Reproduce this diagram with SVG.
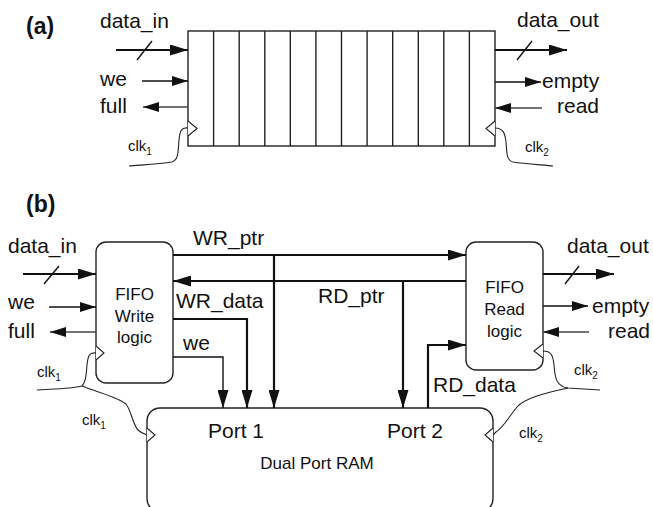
<svg xmlns="http://www.w3.org/2000/svg" width="653" height="507" viewBox="0 0 653 507">
<style>
text{font-family:"Liberation Sans",Arial,sans-serif;fill:#111}
.lbl{font-size:21px}
.clk{font-size:15px}
.sub{font-size:10px}
.hdr{font-size:23px;font-weight:bold}
.box{fill:#fff;stroke:#222;stroke-width:1.4}
.bus{fill:none;stroke:#111;stroke-width:2.2}
.sig{fill:none;stroke:#111;stroke-width:1.4}
.gsig{fill:none;stroke:#444;stroke-width:1.4}
.wire{fill:none;stroke:#222;stroke-width:1.1}
.tri{fill:#fff;stroke:#222;stroke-width:1.1}
.cell{stroke:#222;stroke-width:1.4}
</style>
<defs>
<marker id="ah" viewBox="0 0 18 11" refX="18" refY="5.5" markerWidth="18" markerHeight="11" markerUnits="userSpaceOnUse" orient="auto"><path d="M0,0 L18,5.5 L0,11 Z" fill="#111"/></marker>
<marker id="ahs" viewBox="0 0 16 10" refX="16" refY="5" markerWidth="16" markerHeight="10" markerUnits="userSpaceOnUse" orient="auto"><path d="M0,0 L16,5 L0,10 Z" fill="#111"/></marker>
</defs>

<!-- (a) -->
<text class="hdr" x="26" y="34">(a)</text>
<g id="fifo_a">
<rect class="box" x="188" y="31" width="307" height="115"/>
<g class="cell">
<line x1="213.6" y1="31" x2="213.6" y2="146"/>
<line x1="239.2" y1="31" x2="239.2" y2="146"/>
<line x1="264.8" y1="31" x2="264.8" y2="146"/>
<line x1="290.3" y1="31" x2="290.3" y2="146"/>
<line x1="315.9" y1="31" x2="315.9" y2="146"/>
<line x1="341.5" y1="31" x2="341.5" y2="146"/>
<line x1="367.1" y1="31" x2="367.1" y2="146"/>
<line x1="392.7" y1="31" x2="392.7" y2="146"/>
<line x1="418.3" y1="31" x2="418.3" y2="146"/>
<line x1="443.8" y1="31" x2="443.8" y2="146"/>
<line x1="469.4" y1="31" x2="469.4" y2="146"/>
</g>
<polyline class="tri" points="188,121 197,128.5 188,136"/>
<polyline class="tri" points="495,121 486,128.5 495,136"/>
</g>
<g id="connectors_a">
<line class="bus" x1="116" y1="50" x2="188" y2="50" marker-end="url(#ah)"/>
<line class="sig" x1="137" y1="60" x2="152" y2="41"/>
<line class="sig" x1="142" y1="81" x2="188" y2="81" marker-end="url(#ahs)"/>
<line class="gsig" x1="188" y1="107" x2="143" y2="107" marker-end="url(#ahs)"/>
<path class="wire" d="M188,128 C181,127 180,131 179,140 C178,150 179,160 172,162 C160,164 140,165 129,166"/>
<line class="bus" x1="495" y1="50" x2="567" y2="50" marker-end="url(#ah)"/>
<line class="sig" x1="517" y1="60" x2="532" y2="41"/>
<line class="sig" x1="495" y1="82" x2="541" y2="82" marker-end="url(#ahs)"/>
<line class="gsig" x1="542" y1="108" x2="495" y2="108" marker-end="url(#ahs)"/>
<path class="wire" d="M495,128 C503,128 505,133 506,142 C507,152 506,160 513,162 C525,164 545,165 553,166"/>
</g>
<g id="labels_a">
<text class="lbl" x="100" y="28">data_in</text>
<text class="lbl" x="100" y="86">we</text>
<text class="lbl" x="100" y="113">full</text>
<text class="clk" x="128" y="151">clk<tspan class="sub" dy="4">1</tspan></text>
<text class="lbl" x="517" y="27">data_out</text>
<text class="lbl" x="542" y="88">empty</text>
<text class="lbl" x="557" y="113">read</text>
<text class="clk" x="525" y="152">clk<tspan class="sub" dy="4">2</tspan></text>
</g>

<!-- (b) -->
<text class="hdr" x="26" y="212">(b)</text>
<g id="write_logic">
<rect class="box" x="96" y="242" width="77" height="141" rx="10"/>
<text x="134.5" y="300" font-size="17" text-anchor="middle">FIFO</text>
<text x="134.5" y="322" font-size="17" text-anchor="middle">Write</text>
<text x="134.5" y="343" font-size="17" text-anchor="middle">logic</text>
<polyline class="tri" points="96,346 104,353 96,360"/>
</g>
<g id="read_logic">
<rect class="box" x="466" y="242" width="77" height="128" rx="10"/>
<text x="504.5" y="293" font-size="17" text-anchor="middle">FIFO</text>
<text x="504.5" y="315" font-size="17" text-anchor="middle">Read</text>
<text x="504.5" y="337" font-size="17" text-anchor="middle">logic</text>
<polyline class="tri" points="543,344 534,351 543,358"/>
</g>
<g id="dual_port_ram">
<rect class="box" x="147" y="408" width="346" height="104" rx="13"/>
<text x="208" y="438" font-size="21">Port 1</text>
<text x="387" y="438" font-size="21">Port 2</text>
<text x="317" y="469" font-size="17" text-anchor="middle">Dual Port RAM</text>
<polyline class="tri" points="147,428 155,435 147,442"/>
<polyline class="tri" points="493,428 485,435 493,442"/>
</g>
<g id="connectors_b">
<line class="bus" x1="23" y1="274" x2="96" y2="274" marker-end="url(#ah)"/>
<line class="sig" x1="44" y1="284" x2="59" y2="266"/>
<line class="sig" x1="49" y1="307" x2="96" y2="307" marker-end="url(#ahs)"/>
<line class="gsig" x1="96" y1="332" x2="50" y2="332" marker-end="url(#ahs)"/>
<line class="bus" x1="543" y1="274" x2="614" y2="274" marker-end="url(#ah)"/>
<line class="sig" x1="565" y1="284" x2="579" y2="266"/>
<line class="sig" x1="543" y1="306" x2="588" y2="306" marker-end="url(#ahs)"/>
<line class="gsig" x1="589" y1="332" x2="543" y2="332" marker-end="url(#ahs)"/>
<line class="bus" x1="173" y1="255" x2="466" y2="255" marker-end="url(#ah)"/>
<line class="bus" x1="274" y1="255" x2="274" y2="408" marker-end="url(#ah)"/>
<line class="bus" x1="466" y1="281" x2="173" y2="281" marker-end="url(#ah)"/>
<line class="bus" x1="403" y1="281" x2="403" y2="408" marker-end="url(#ah)"/>
<polyline class="bus" points="173,319 247,319 247,408" marker-end="url(#ah)"/>
<polyline class="sig" points="173,357 223,357 223,408" marker-end="url(#ah)"/>
<polyline class="bus" points="428,408 428,345 466,345" marker-end="url(#ah)"/>
<path class="wire" d="M96,353 C89,352 88,356 87,365 C86,375 86,382 82,386 C70,389 50,389 37,390"/>
<path class="wire" d="M82,386 C100,393 120,398 126,404 C131,410 133,425 138,430 C141,433 144,434 147,435"/>
<path class="wire" d="M543,351 C551,351 553,355 554,365 C555,378 556,386 568,388 L600,390"/>
<path class="wire" d="M568,388 C545,393 525,398 517,407 C508,418 503,428 496,432 L493,435"/>
</g>
<g id="labels_b">
<text class="lbl" x="8" y="253">data_in</text>
<text class="lbl" x="8" y="309">we</text>
<text class="lbl" x="8" y="338">full</text>
<text class="clk" x="37" y="377">clk<tspan class="sub" dy="4">1</tspan></text>
<text class="clk" x="82" y="425">clk<tspan class="sub" dy="4">1</tspan></text>
<text class="lbl" x="193" y="245">WR_ptr</text>
<text class="lbl" x="176" y="308">WR_data</text>
<text class="lbl" x="183" y="350">we</text>
<text class="lbl" x="318" y="303">RD_ptr</text>
<text class="lbl" x="433" y="392">RD_data</text>
<text class="lbl" x="567" y="253">data_out</text>
<text class="lbl" x="592" y="313">empty</text>
<text class="lbl" x="608" y="338">read</text>
<text class="clk" x="574" y="375">clk<tspan class="sub" dy="4">2</tspan></text>
<text class="clk" x="519" y="438">clk<tspan class="sub" dy="4">2</tspan></text>
</g>
</svg>
